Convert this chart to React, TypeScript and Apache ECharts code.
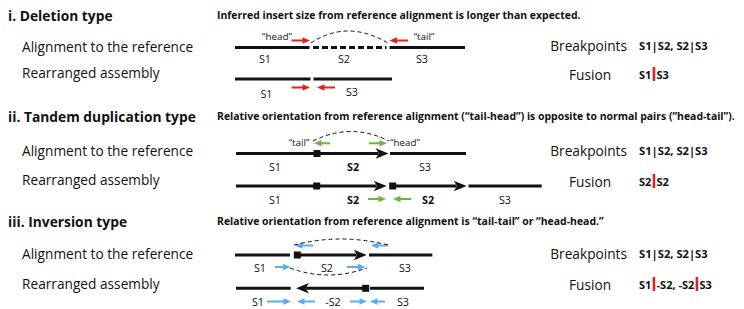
import React, { useEffect, useRef } from "react";
import * as echarts from "echarts";

const sectionTitles = ["i. Deletion type", "ii. Tandem duplication type", "iii. Inversion type"];
const sectionNotes = [
  "Inferred insert size from reference alignment is longer than expected.",
  "Relative orientation from reference alignment (\u201Ctail-head\u201D) is opposite to normal pairs (\u201Dhead-tail\u201D).",
  "Relative orientation from reference alignment is \u201Ctail-tail\u201D or \u201Chead-head.\u201D",
];
const rowLabels = ["Alignment to the reference", "Rearranged assembly"];
const breakpointLabel = "Breakpoints";
const fusionLabel = "Fusion";
const breakpoints = ["S1|S2, S2|S3", "S1|S2, S2|S3", "S1|S2, S2|S3"];
const fusions = [["S1", "S3"], ["S2", "S2"], ["S1", "-S2, -S2", "S3"]];
const readTags = ["\u201Chead\u201D", "\u201Ctail\u201D"];

const FONT = "'Open Sans', 'Noto Sans', sans-serif";
const INK = "#111111";
const RED = "#e42320";
const GREEN = "#6cb43f";
const BLUE = "#5aaee6";

const LABEL = 13.7;
const SMALL = 10.8;
const TAG = 9.8;

function txt(x: number, y: number, text: string, size: number, opts: any = {}) {
  return {
    type: "text",
    x,
    y,
    silent: true,
    style: {
      text,
      fontSize: size,
      fontFamily: FONT,
      fill: INK,
      align: opts.align || "left",
      verticalAlign: "middle",
      fontWeight: opts.bold ? "bold" : "normal",
    },
  };
}

function seg(x1: number, x2: number, y: number, dash?: number[]) {
  return {
    type: "line",
    silent: true,
    shape: { x1, y1: y, x2, y2: y },
    style: { stroke: INK, lineWidth: 3, lineDash: dash || null, lineCap: "butt" },
  };
}

function sq(cx: number, cy: number) {
  return { type: "rect", silent: true, shape: { x: cx - 3.5, y: cy - 3.5, width: 7, height: 7 }, style: { fill: INK } };
}

// big black arrow from x1 to tip x2
function bigArrow(x1: number, x2: number, y: number) {
  const d = x2 > x1 ? 1 : -1;
  return [
    {
      type: "line",
      silent: true,
      shape: { x1, y1: y, x2: x2 - d * 10, y2: y },
      style: { stroke: INK, lineWidth: 3, lineCap: "butt" },
    },
    {
      type: "polygon",
      silent: true,
      shape: {
        points: [
          [x2, y],
          [x2 - d * 13, y - 5.3],
          [x2 - d * 9.5, y],
          [x2 - d * 13, y + 5.3],
        ],
      },
      style: { fill: INK },
    },
  ];
}

// small coloured read arrow from x1 (tail) to x2 (tip)
function read(x1: number, x2: number, y: number, color: string) {
  const d = x2 > x1 ? 1 : -1;
  return [
    {
      type: "line",
      silent: true,
      shape: { x1, y1: y, x2: x2 - d * 6, y2: y },
      style: { stroke: color, lineWidth: 2, lineCap: "butt" },
    },
    {
      type: "polygon",
      silent: true,
      shape: {
        points: [
          [x2, y],
          [x2 - d * 7.5, y - 3.3],
          [x2 - d * 7.5, y + 3.3],
        ],
      },
      style: { fill: color },
    },
  ];
}

function arc(x1: number, y1: number, cx: number, cy: number, x2: number, y2: number) {
  return {
    type: "bezierCurve",
    silent: true,
    shape: { x1, y1, x2, y2, cpx1: cx, cpy1: cy },
    style: { stroke: INK, lineWidth: 1, lineDash: [4, 3], fill: "none" },
  };
}

function fusionText(x: number, y: number, parts: string[]) {
  let s = "";
  parts.forEach((p, i) => {
    if (i > 0) s += "{g| }{bar| }{g| }";
    s += "{b|" + p + "}";
  });
  return {
    type: "text",
    x,
    y,
    silent: true,
    style: {
      text: s,
      fontFamily: FONT,
      fontSize: 11,
      fill: INK,
      verticalAlign: "middle",
      align: "left",
      rich: {
        b: { fontFamily: FONT, fontSize: 11, fontWeight: "bold", fill: INK },
        g: { width: 1.3, fontSize: 11 },
        bar: { width: 2.6, height: 14, backgroundColor: RED, fontSize: 11 },
      },
    },
  };
}

function buildGraphics() {
  const g: any[] = [];
  const sectionY = [15, 116, 221];
  const rowY = [
    [46, 72.5],
    [150.7, 179.5],
    [253.3, 283.5],
  ];
  const bpY = [45, 150.7, 253.3];
  const fuY = [74, 181, 284];

  sectionTitles.forEach((t, i) => {
    g.push(txt(8, sectionY[i], t, 13.8, { bold: true }));
    g.push(txt(217, sectionY[i], sectionNotes[i], 10.45, { bold: true }));
    g.push(txt(22, rowY[i][0], rowLabels[0], LABEL));
    g.push(txt(22, rowY[i][1], rowLabels[1], LABEL));
    g.push(txt(627, bpY[i], breakpointLabel, LABEL, { align: "right" }));
    g.push(txt(639, bpY[i], breakpoints[i], 11.2, { bold: true }));
    g.push(txt(590, fuY[i], fusionLabel, LABEL, { align: "center" }));
    g.push(fusionText(639, fuY[i], fusions[i]));
  });

  // ---------- i. Deletion ----------
  let y = 47.5;
  g.push(seg(235, 309.5, y));
  g.push(seg(313, 386.5, y, [6, 3]));
  g.push(seg(389.5, 465, y));
  g.push(txt(265, 58.5, "S1", SMALL, { align: "center" }));
  g.push(txt(344, 58.5, "S2", SMALL, { align: "center" }));
  g.push(txt(422, 58.5, "S3", SMALL, { align: "center" }));
  g.push(txt(277, 36.5, readTags[0], TAG, { align: "center" }));
  g.push(txt(424, 36.5, readTags[1], TAG, { align: "center" }));
  g.push(...read(291.5, 310, 40.5, RED));
  g.push(...read(408, 389.5, 40.5, RED));
  g.push(arc(311, 43, 347, 19, 388, 43));
  y = 79;
  g.push(seg(235, 310.5, y));
  g.push(seg(313.5, 392, y));
  g.push(txt(266.5, 93, "S1", SMALL, { align: "center" }));
  g.push(txt(352, 91, "S3", SMALL, { align: "center" }));
  g.push(...read(291.5, 310, 87.5, RED));
  g.push(...read(335, 317, 87.5, RED));

  // ---------- ii. Tandem duplication ----------
  y = 153.5;
  g.push(seg(236, 314, y));
  g.push(...bigArrow(317, 388.5, y));
  g.push(sq(317, y));
  g.push(seg(390, 466, y));
  g.push(txt(275, 166, "S1", SMALL, { align: "center" }));
  g.push(txt(353, 166, "S2", SMALL, { align: "center", bold: true }));
  g.push(txt(425, 166, "S3", SMALL, { align: "center" }));
  g.push(txt(299, 142, readTags[1], TAG, { align: "center" }));
  g.push(txt(405, 142, readTags[0], TAG, { align: "center" }));
  g.push(...read(330, 314, 143.3, GREEN));
  g.push(...read(369, 387, 143.3, GREEN));
  g.push(arc(313, 141, 351, 122, 389, 141));
  y = 186;
  g.push(seg(236, 314, y));
  g.push(...bigArrow(317, 386.7, y));
  g.push(sq(316.7, y));
  g.push(...bigArrow(392.7, 466.7, y));
  g.push(sq(392.7, y));
  g.push(seg(468.5, 541.7, y));
  g.push(txt(275, 199, "S1", SMALL, { align: "center" }));
  g.push(txt(353, 199, "S2", SMALL, { align: "center", bold: true }));
  g.push(txt(428, 199, "S2", SMALL, { align: "center", bold: true }));
  g.push(txt(505, 199, "S3", SMALL, { align: "center" }));
  g.push(...read(368, 386, 199, GREEN));
  g.push(...read(411, 393, 199, GREEN));

  // ---------- iii. Inversion ----------
  y = 255;
  g.push(seg(235, 290, y));
  g.push(...bigArrow(297, 366.7, y));
  g.push(sq(297.3, y));
  g.push(seg(369, 432.3, y));
  g.push(txt(260, 267, "S1", SMALL, { align: "center" }));
  g.push(txt(327, 267, "S2", SMALL, { align: "center" }));
  g.push(txt(405, 267, "S3", SMALL, { align: "center" }));
  g.push(...read(313, 295, 245.5, BLUE));
  g.push(...read(387.5, 371, 245.5, BLUE));
  g.push(...read(275, 290.5, 267, BLUE));
  g.push(...read(347, 365.5, 267, BLUE));
  g.push(arc(294, 245, 341, 233, 388, 245));
  g.push(arc(290, 268, 328, 282, 367, 268));
  y = 288.3;
  g.push(seg(236, 290.7, y));
  g.push(...bigArrow(365.7, 296, y));
  g.push(sq(365.7, y));
  g.push(seg(370, 424, y));
  g.push(txt(258, 301.5, "S1", SMALL, { align: "center" }));
  g.push(txt(333, 301.5, "-S2", SMALL, { align: "center" }));
  g.push(txt(403, 301.5, "S3", SMALL, { align: "center" }));
  g.push(...read(267, 291, 301.5, BLUE));
  g.push(...read(315, 297, 301.5, BLUE));
  g.push(...read(350, 367, 301.5, BLUE));
  g.push(...read(385, 370, 301.5, BLUE));

  return g;
}

export default function App() {
  const ref = useRef<HTMLDivElement>(null);
  useEffect(() => {
    if (!ref.current) return;
    const chart = echarts.init(ref.current, undefined, { renderer: "svg" });
    chart.setOption({
      animation: false,
      backgroundColor: "#ffffff",
      graphic: { elements: buildGraphics() },
    });
    return () => chart.dispose();
  }, []);
  return (
    <div
      ref={ref}
      style={{ position: "fixed", left: 0, top: 0, width: 744, height: 309, background: "#fff" }}
    />
  );
}
